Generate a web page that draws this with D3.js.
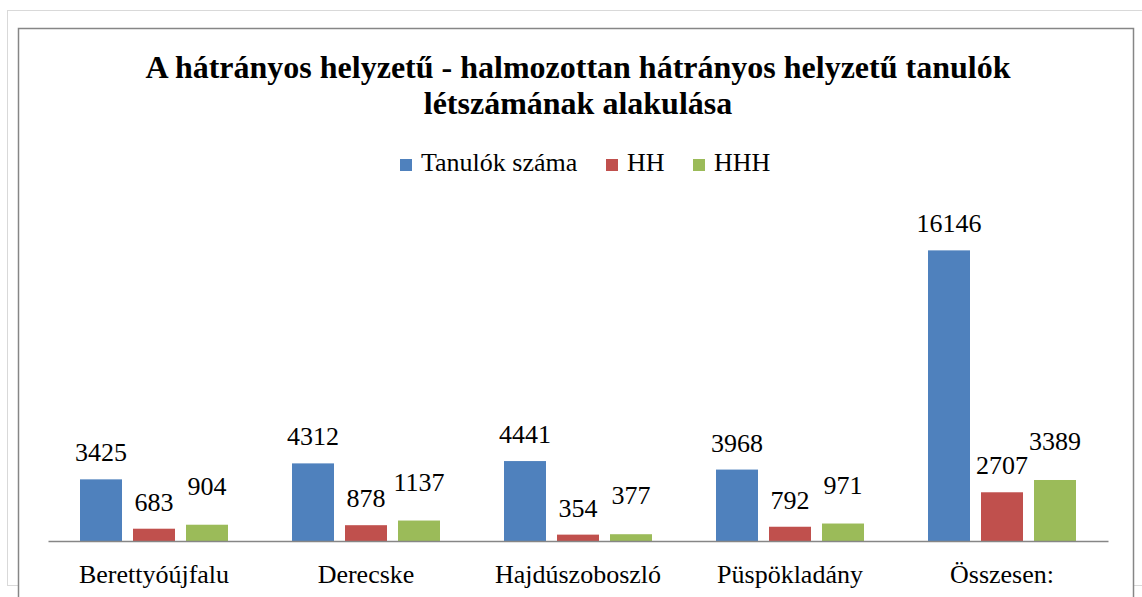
<!DOCTYPE html>
<html>
<head>
<meta charset="utf-8">
<script src="https://cdn.jsdelivr.net/npm/d3@7"></script>
<style>
  body { margin: 0; background: #fff; }
</style>
</head>
<body>
<div id="chart"></div>
<script>
// data
const categories = ["Berettyóújfalu", "Derecske", "Hajdúszoboszló", "Püspökladány", "Összesen:"];
const seriesNames = ["Tanulók száma", "HH", "HHH"];
const tanulok = [3425, 4312, 4441, 3968, 16146];
const hh = [683, 878, 354, 792, 2707];
const hhh = [904, 1137, 377, 971, 3389];
const titleLines = ["A hátrányos helyzetű - halmozottan hátrányos helyzetű tanulók", "létszámának alakulása"];

const colors = ["#4F81BD", "#C0504D", "#9BBB59"];
const labelLift = [18, 18, 30];   // baseline distance above bar top, per series
const FONT = "Liberation Serif";

const W = 1142, H = 597;
const plot = { left: 48, right: 1108, top: 217, bottom: 541 };

const svg = d3.select("#chart")
    .append("svg")
    .attr("width", W)
    .attr("height", H)
    .attr("font-family", FONT);

// page frame + chart frame
svg.append("rect")
    .attr("x", 7.5).attr("y", 10.5)
    .attr("width", 1200).attr("height", 575)
    .attr("fill", "none")
    .attr("stroke", "#d9d9d9");

svg.append("rect")
    .attr("x", 18.5).attr("y", 28.5)
    .attr("width", 1115).attr("height", 620)
    .attr("fill", "#fff")
    .attr("stroke", "#868686")
    .attr("stroke-width", 1.5);

// title
svg.append("text")
    .attr("text-anchor", "middle")
    .attr("font-family", FONT)
    .attr("font-weight", "bold")
    .attr("font-size", 32)
    .selectAll("tspan")
    .data(titleLines)
    .join("tspan")
    .attr("x", 578)
    .attr("y", (d, i) => 78 + i * 36)
    .text(d => d);

// scales
const x0 = d3.scaleBand()
    .domain(categories)
    .range([plot.left, plot.right]);

const x1 = d3.scaleBand()
    .domain(seriesNames)
    .range([0, 148])
    .paddingInner(11 / 53);

const y = d3.scaleLinear()
    .domain([0, 18000])
    .range([plot.bottom, plot.top]);

const rows = categories.map((c, i) => ({
    cat: c,
    vals: [tanulok[i], hh[i], hhh[i]]
}));

const groups = svg.append("g")
    .selectAll("g")
    .data(rows)
    .join("g")
    .attr("transform", d => `translate(${x0(d.cat) + (x0.bandwidth() - 148) / 2},0)`);

groups.selectAll("rect")
    .data(d => d.vals.map((v, j) => ({ v, j })))
    .join("rect")
    .attr("x", d => x1(seriesNames[d.j]))
    .attr("y", d => y(d.v))
    .attr("width", x1.bandwidth())
    .attr("height", d => y(0) - y(d.v))
    .attr("fill", d => colors[d.j]);

groups.selectAll("text")
    .data(d => d.vals.map((v, j) => ({ v, j })))
    .join("text")
    .attr("x", d => x1(seriesNames[d.j]) + x1.bandwidth() / 2)
    .attr("y", d => y(d.v) - labelLift[d.j])
    .attr("text-anchor", "middle")
    .attr("font-family", FONT)
    .attr("font-size", 26)
    .text(d => d.v);

// x axis
const xAxis = d3.axisBottom(x0).tickSize(0).tickSizeOuter(0).tickPadding(24);
const gx = svg.append("g")
    .attr("transform", `translate(0,${plot.bottom})`)
    .call(xAxis)
    .attr("font-family", FONT)
    .attr("font-size", 26);
gx.select(".domain").attr("stroke", "#868686").attr("stroke-width", 1.5);
gx.selectAll("text").attr("fill", "#000");

// legend
const legendX = [400, 606, 693];
const legend = svg.append("g")
    .selectAll("g")
    .data(seriesNames)
    .join("g")
    .attr("transform", (d, i) => `translate(${legendX[i]},159)`);
legend.append("rect")
    .attr("width", 12).attr("height", 12)
    .attr("fill", (d, i) => colors[i]);
legend.append("text")
    .attr("x", 21).attr("y", 12)
    .attr("font-family", FONT)
    .attr("font-size", 26)
    .text(d => d);
</script>
</body>
</html>
